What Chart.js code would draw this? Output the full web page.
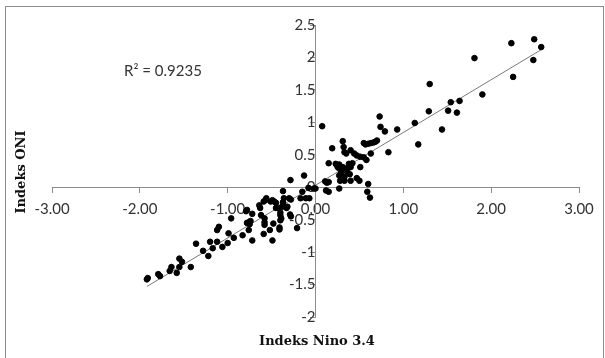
<!DOCTYPE html>
<html>
<head>
<meta charset="utf-8">
<script src="https://cdn.jsdelivr.net/npm/chart.js@4"></script>
<style>
  body { margin: 0; background: #fff; }
  #wrap { position: relative; width: 605px; height: 358px; }
  #frame { position: absolute; left: 5px; top: 6px; width: 597px; height: 360px; border: 1px solid #8c8c8c; }
  canvas { position: absolute; left: 0; top: 0; }
</style>
</head>
<body>
<div id="wrap">
  <div id="frame"></div>
  <canvas id="myChart" width="605" height="358"></canvas>
</div>
<script>
// Indeks Nino 3.4 (x) vs Indeks ONI (y)
var nino = [
  -1.92, -1.91, -1.79, -1.77, -1.66, -1.64, -1.58, -1.55, -1.55, -1.52, -1.42, -1.36, -1.28, -1.22, -1.20,
  -1.17, -1.12, -1.10, -1.12, -1.06, -1.00, -0.99, -0.96, -0.93, -0.83, -0.76, -0.72, -0.76, -0.78, -0.74,
  -0.75, -0.72, -0.78, -0.79, -0.64, -0.63, -0.62, -0.59, -0.58, -0.58, -0.58, -0.52, -0.49, -0.48, -0.57,
  -0.56, -0.59, -0.49, -0.51, -0.47, -0.45, -0.41, -0.41, -0.40, -0.40, -0.39, -0.40, -0.29, -0.28, -0.21,
  -0.42, -0.38, -0.45, -0.33, -0.32, -0.37, -0.36, -0.37, -0.37, -0.28, -0.30, -0.17, -0.11, -0.07, -0.15,
  -0.285, -0.13, -0.08, -0.02,
  0.076, 0.73, 0.74, 0.79, 0.93, 0.55, 0.57, 0.60, 0.63, 0.66, 0.68, 0.70, 0.19, 0.31, 0.32,
  0.33, 0.35, 0.40, 0.44, 0.47, 0.51, 0.55, 0.63, 0.83, 0.58, 0.15, 0.23, 0.25, 0.27, 0.26,
  0.38, 0.40, 0.42, 0.36, 0.31, 0.30, 0.29, 0.36, 0.39, 0.33, 0.51, 0.27, 0.28, 0.33, 0.40,
  0.47, 0.50, 0.11, 0.13, 0.15, 0.00, 0.12, 0.15, 0.27, 0.60, 0.59, 0.62,
  1.13, 1.17, 1.44, 1.29, 1.51, 1.61, 1.54, 1.64, 1.30, 1.90, 2.25, 1.81, 2.48, 2.57, 2.23, 2.49
];
var oni = [
  -1.42, -1.40, -1.34, -1.37, -1.29, -1.23, -1.32, -1.23, -1.10, -1.15, -1.23, -0.87, -0.98, -1.06, -0.84,
  -0.94, -0.84, -0.61, -0.66, -0.92, -0.86, -0.71, -0.48, -0.78, -0.74, -0.66, -0.82, -0.54, -0.55, -0.52,
  -0.57, -0.41, -0.35, -0.37, -0.28, -0.32, -0.43, -0.72, -0.54, -0.48, -0.58, -0.66, -0.82, -0.56, -0.20,
  -0.17, -0.22, -0.20, -0.22, -0.22, -0.24, -0.62, -0.65, -0.39, -0.43, -0.48, -0.51, -0.42, -0.45, -0.63,
  -0.32, -0.30, -0.32, -0.32, -0.30, -0.06, -0.17, -0.23, -0.26, -0.19, -0.17, -0.17, -0.17, -0.17, -0.07,
  0.11, 0.18, -0.01, -0.02,
  0.94, 1.09, 0.93, 0.86, 0.89, 0.68, 0.66, 0.67, 0.68, 0.69, 0.70, 0.72, 0.60, 0.71, 0.62,
  0.54, 0.52, 0.57, 0.52, 0.49, 0.47, 0.46, 0.52, 0.54, 0.42, 0.37, 0.36, 0.32, 0.35, 0.30,
  0.36, 0.31, 0.37, 0.29, 0.31, 0.28, 0.22, 0.24, 0.20, 0.16, 0.31, 0.18, 0.10, 0.10, 0.10,
  0.14, 0.10, 0.09, 0.07, 0.08, -0.02, -0.05, -0.07, -0.02, 0.05, -0.07, -0.16,
  0.99, 0.66, 0.89, 1.17, 1.18, 1.15, 1.31, 1.33, 1.59, 1.43, 1.70, 1.99, 1.96, 2.16, 2.22, 2.28
];
// linear trendline ends as drawn in the picture
var trendX = [-1.92, 2.57];
var trendY = [-1.53, 2.12];
var rSquared = 'R² = 0.9235';

var points = nino.map(function (v, i) { return { x: v, y: oni[i] }; });
var trend = trendX.map(function (v, i) { return { x: v, y: trendY[i] }; });

var tickFont = { family: 'Lato', size: 15 };

var labelsPlugin = {
  id: 'labels',
  afterDraw: function (chart) {
    var c = chart.ctx;
    c.save();
    c.fillStyle = '#333';
    c.font = '15px Lato';
    c.textAlign = 'left';
    c.textBaseline = 'middle';
    c.fillText(rSquared, 124, 71);

    c.fillStyle = '#111';
    c.font = 'bold 13px "DejaVu Serif"';
    c.textAlign = 'center';
    c.fillText('Indeks Nino 3.4', 317, 342);
    c.translate(22, 172);
    c.rotate(-Math.PI / 2);
    c.fillText('Indeks ONI', 0, 0);
    c.restore();
  }
};

var ctx = document.getElementById('myChart').getContext('2d');
var myChart = new Chart(ctx, {
  type: 'scatter',
  data: {
    datasets: [{
      data: points,
      backgroundColor: '#000',
      borderColor: '#000',
      pointRadius: 2.8,
      pointHoverRadius: 2.8
    }, {
      type: 'line',
      data: trend,
      borderColor: '#7a7a7a',
      borderWidth: 1,
      pointRadius: 0,
      fill: false
    }]
  },
  options: {
    responsive: false,
    animation: false,
    devicePixelRatio: 1,
    layout: { padding: { left: 52, right: 26, top: 25, bottom: 41 } },
    plugins: {
      legend: { display: false },
      tooltip: { enabled: false }
    },
    scales: {
      x: {
        type: 'linear',
        position: { y: 0 },
        min: -3,
        max: 3,
        afterFit: function (s) { s.height = 0; },
        ticks: {
          stepSize: 1,
          autoSkip: false,
          maxRotation: 0,
          padding: 8,
          color: '#333',
          font: tickFont,
          callback: function (v) { return v.toFixed(2); }
        },
        grid: { drawOnChartArea: false, drawTicks: true, tickLength: 5, color: '#8c8c8c' },
        border: { color: '#8c8c8c' }
      },
      y: {
        type: 'linear',
        position: { x: 0 },
        min: -2,
        max: 2.5,
        afterFit: function (s) { s.width = 0; },
        ticks: {
          stepSize: 0.5,
          autoSkip: false,
          padding: 7,
          color: '#333',
          font: tickFont,
          callback: function (v) { return String(Math.round(v * 10) / 10); }
        },
        grid: { drawOnChartArea: false, drawTicks: true, tickLength: 5, color: '#8c8c8c' },
        border: { color: '#8c8c8c' }
      }
    }
  },
  plugins: [labelsPlugin]
});
</script>
</body>
</html>
